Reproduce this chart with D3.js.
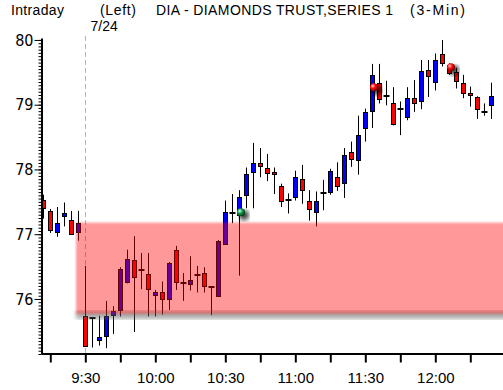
<!DOCTYPE html>
<html>
<head>
<meta charset="utf-8">
<script src="https://cdn.jsdelivr.net/npm/d3@7"></script>
<style>
  body { margin: 0; background: #fff; }
  text { font-family: "Liberation Sans", Arial, sans-serif; fill: #000; }
</style>
</head>
<body>
<svg id="svg" width="503" height="390"></svg>
<script>
// 3-minute bars, the last six are from the previous session
var times = ["15:42", "15:45", "15:48", "15:51", "15:54", "15:57",
  "9:30", "9:33", "9:36", "9:39", "9:42", "9:45", "9:48", "9:51", "9:54", "9:57",
  "10:00", "10:03", "10:06", "10:09", "10:12", "10:15", "10:18", "10:21", "10:24", "10:27",
  "10:30", "10:33", "10:36", "10:39", "10:42", "10:45", "10:48", "10:51", "10:54", "10:57",
  "11:00", "11:03", "11:06", "11:09", "11:12", "11:15", "11:18", "11:21", "11:24", "11:27",
  "11:30", "11:33", "11:36", "11:39", "11:42", "11:45", "11:48", "11:51", "11:54", "11:57",
  "12:00", "12:03", "12:06", "12:09", "12:12", "12:15", "12:18", "12:21", "12:24"];

var open = [77.53, 77.36, 77.03, 77.29, 77.22, 77.03,
  75.74, 75.70, 75.37, 75.42, 75.75, 75.84, 76.26, 76.60, 76.44, 76.38,
  76.05, 76.10, 76.00, 76.75, 76.25, 76.24, 76.37, 76.40, 76.19, 76.05,
  76.86, 77.32, 77.29, 77.60, 77.96, 78.10, 78.02, 77.96, 77.74, 77.53,
  77.57, 77.86, 77.52, 77.34, 77.64, 77.66, 77.88, 77.79, 78.27, 78.14,
  78.65, 78.90, 79.34, 79.14, 79.02, 78.93, 78.82, 79.11, 79.05, 79.53,
  79.35, 79.78, 79.62, 79.50, 79.33, 79.18, 79.12, 78.88, 79.00];
var high = [77.61, 77.39, 77.42, 77.49, 77.36, 77.36,
  76.51, 75.72, 75.74, 75.97, 75.89, 76.49, 76.76, 76.97, 76.71, 76.71,
  76.14, 76.27, 76.57, 76.82, 76.40, 76.66, 76.51, 76.49, 76.20, 76.91,
  77.52, 77.62, 77.68, 78.03, 78.41, 78.33, 78.24, 78.03, 77.78, 77.63,
  77.98, 78.07, 77.68, 77.66, 77.84, 78.01, 78.11, 78.33, 78.43, 78.83,
  78.94, 79.63, 79.63, 79.37, 79.27, 79.05, 79.27, 79.38, 79.69, 79.69,
  79.79, 80.00, 79.64, 79.57, 79.46, 79.28, 79.13, 79.02, 79.34];
var low = [77.24, 77.02, 76.96, 77.12, 77.00, 76.90,
  75.26, 75.25, 75.28, 75.24, 75.46, 75.73, 76.24, 75.49, 76.15, 75.73,
  75.73, 75.76, 75.83, 76.14, 75.97, 76.13, 76.10, 76.10, 75.75, 76.04,
  76.84, 77.17, 76.36, 77.40, 77.40, 77.88, 77.82, 77.62, 77.42, 77.32,
  77.52, 77.47, 77.21, 77.12, 77.37, 77.61, 77.67, 77.56, 78.04, 77.92,
  78.43, 78.64, 79.02, 78.99, 78.68, 78.53, 78.76, 78.89, 78.93, 79.12,
  79.22, 79.59, 79.46, 79.25, 79.10, 78.97, 78.78, 78.83, 78.78];
var close = [77.40, 77.07, 77.17, 77.33, 77.01, 77.17,
  75.27, 75.70, 75.41, 75.73, 75.81, 76.47, 76.61, 76.34, 76.44, 76.15,
  76.10, 75.99, 76.55, 76.26, 76.25, 76.30, 76.37, 76.20, 76.19, 76.90,
  77.35, 77.32, 77.57, 77.93, 78.10, 78.05, 77.94, 77.93, 77.51, 77.53,
  77.88, 77.69, 77.39, 77.51, 77.64, 77.98, 77.74, 78.23, 78.16, 78.53,
  78.89, 79.46, 79.10, 79.14, 78.70, 78.93, 79.11, 79.04, 79.52, 79.44,
  79.69, 79.64, 79.49, 79.36, 79.18, 79.15, 78.94, 78.88, 79.14];

var majorTicks = ["9:30", "10:00", "10:30", "11:00", "11:30", "12:00"];
var minorTicks = ["15:45", "9:45", "10:15", "10:45", "11:15", "11:45", "12:15"];
var priceTicks = [76, 77, 78, 79, 80];

var sessionStart = "9:30", sessionLabel = "7/24";
var zoneStart = "15:57", zoneTop = 77.18, zoneBottom = 75.77;
var markerTimes = ["10:36", "11:33", "12:06"];
var markerPrices = [77.34, 79.27, 79.58];
var markerKinds = ["green", "red", "red"];

var svg = d3.select("#svg"),
  width = +svg.attr("width"),
  plotLeft = 42, plotTop = 38, plotBottom = 354;

var x = d3.scaleLinear().domain([0, times.length - 1]).range([43.3, 43.3 + 7 * (times.length - 1)]),
  y = d3.scaleLinear().domain([75.15, 80.03]).range([plotBottom, plotTop]);

function cx(t) { return Math.floor(x(times.indexOf(t))) + 0.5; }

var defs = svg.append("defs");
defs.append("clipPath").attr("id", "plot")
  .append("rect").attr("x", plotLeft + 1).attr("y", 30).attr("width", width - plotLeft).attr("height", plotBottom - 30);
defs.append("filter").attr("id", "soft").append("feGaussianBlur").attr("stdDeviation", 1.3);
defs.append("filter").attr("id", "blur2").append("feGaussianBlur").attr("stdDeviation", 2);

var grads = {green: ["#d8ffe8", "#1aa34f", "#00401c"], red: ["#ffd0d0", "#ff1010", "#7a0000"]};
Object.keys(grads).forEach(function (k) {
  var g = defs.append("radialGradient").attr("id", "ball-" + k)
    .attr("cx", "35%").attr("cy", "35%").attr("r", "65%");
  g.append("stop").attr("offset", "0%").attr("stop-color", grads[k][0]);
  g.append("stop").attr("offset", "45%").attr("stop-color", grads[k][1]);
  g.append("stop").attr("offset", "100%").attr("stop-color", grads[k][2]);
});

// header
var head = svg.append("g").attr("font-size", 14);
head.append("text").attr("x", 11).attr("y", 15).attr("textLength", 53).text("Intraday");
head.append("text").attr("x", 100).attr("y", 15).attr("textLength", 36).text("(Left)");
head.append("text").attr("x", 156).attr("y", 15).attr("textLength", 237).text("DIA - DIAMONDS TRUST,SERIES 1");
head.append("text").attr("x", 410).attr("y", 15).attr("textLength", 55).text("(3-Min)");
head.append("text").attr("x", cx(sessionStart) + 5).attr("y", 31).text(sessionLabel);

// session divider
svg.append("line")
  .attr("x1", cx(sessionStart)).attr("x2", cx(sessionStart))
  .attr("y1", 36).attr("y2", plotBottom)
  .attr("stroke", "#b4b4b4").attr("stroke-dasharray", "5,3");

var idx = d3.range(times.length);
var plot = svg.append("g").attr("clip-path", "url(#plot)");

var bar = plot.selectAll(".bar").data(idx).enter().append("g").attr("class", "bar");

bar.append("line")
  .attr("x1", function (i) { return cx(times[i]); })
  .attr("x2", function (i) { return cx(times[i]); })
  .attr("y1", function (i) { return y(high[i]); })
  .attr("y2", function (i) { return y(low[i]); })
  .attr("stroke", "#000");

bar.filter(function (i) { return open[i] !== close[i]; })
  .append("rect")
  .attr("x", function (i) { return cx(times[i]) - 2; })
  .attr("width", 4)
  .attr("y", function (i) { return Math.round(y(Math.max(open[i], close[i]))) + 0.5; })
  .attr("height", function (i) { return Math.max(1, Math.round(Math.abs(y(open[i]) - y(close[i])))); })
  .attr("fill", function (i) { return close[i] > open[i] ? "#0000ff" : "#ff0000"; })
  .attr("stroke", "#000");

bar.filter(function (i) { return open[i] === close[i]; })
  .append("line")
  .attr("x1", function (i) { return cx(times[i]) - 3; })
  .attr("x2", function (i) { return cx(times[i]) + 3; })
  .attr("y1", function (i) { return Math.round(y(open[i])); })
  .attr("y2", function (i) { return Math.round(y(open[i])); })
  .attr("stroke", "#000").attr("stroke-width", 2);

// shaded zone
var zx = cx(zoneStart) - 2.5;
plot.append("rect")
  .attr("x", zx).attr("y", y(zoneBottom) - 3)
  .attr("width", width - zx + 10).attr("height", 8)
  .attr("fill", "#555").attr("opacity", 0.5)
  .attr("filter", "url(#blur2)");
plot.append("rect")
  .attr("x", zx).attr("y", y(zoneTop))
  .attr("width", width - zx + 10).attr("height", y(zoneBottom) - y(zoneTop))
  .attr("fill", "#ff0000").attr("fill-opacity", 0.4)
  .attr("filter", "url(#soft)");

// signal markers
var mk = plot.selectAll(".marker").data(markerTimes).enter().append("g").attr("class", "marker")
  .attr("transform", function (t, i) { return "translate(" + (cx(t) + 1.5) + "," + y(markerPrices[i]) + ")"; });
mk.append("circle").attr("cx", 3).attr("cy", 3).attr("r", 5)
  .attr("fill", "#000").attr("opacity", 0.75).attr("filter", "url(#blur2)");
mk.append("circle").attr("r", 4)
  .attr("fill", function (t, i) { return "url(#ball-" + markerKinds[i] + ")"; });

// axes
var yMinor = svg.append("g").attr("transform", "translate(41.5,0)")
  .call(d3.axisLeft(y).ticks(100).tickSize(3).tickFormat(""));
yMinor.select(".domain").remove();

var yAxis = svg.append("g").attr("transform", "translate(41.5,0)")
  .call(d3.axisLeft(y).tickValues(priceTicks).tickSize(7).tickSizeOuter(0).tickPadding(1).tickFormat(d3.format("d")));
yAxis.select(".domain").attr("stroke-width", 2);
yAxis.selectAll("text")
  .attr("font-size", 16)
  .style("font-family", "'Liberation Sans Narrow', 'DejaVu Sans Condensed', sans-serif");

var xAxis = svg.append("g").attr("transform", "translate(0," + (plotBottom - 0.5) + ")")
  .call(d3.axisBottom(x)
    .tickValues(majorTicks.concat(minorTicks).map(function (t) { return times.indexOf(t); }))
    .tickSize(9).tickSizeOuter(0).tickPadding(10)
    .tickFormat(function (i) { return majorTicks.indexOf(times[i]) >= 0 ? times[i] : ""; }));
xAxis.select(".domain").attr("d", "M" + plotLeft + ",0.5H" + width).attr("stroke-width", 2);
xAxis.selectAll(".tick line").attr("stroke-width", 2);
xAxis.selectAll("text").attr("font-size", 15);
</script>
</body>
</html>
